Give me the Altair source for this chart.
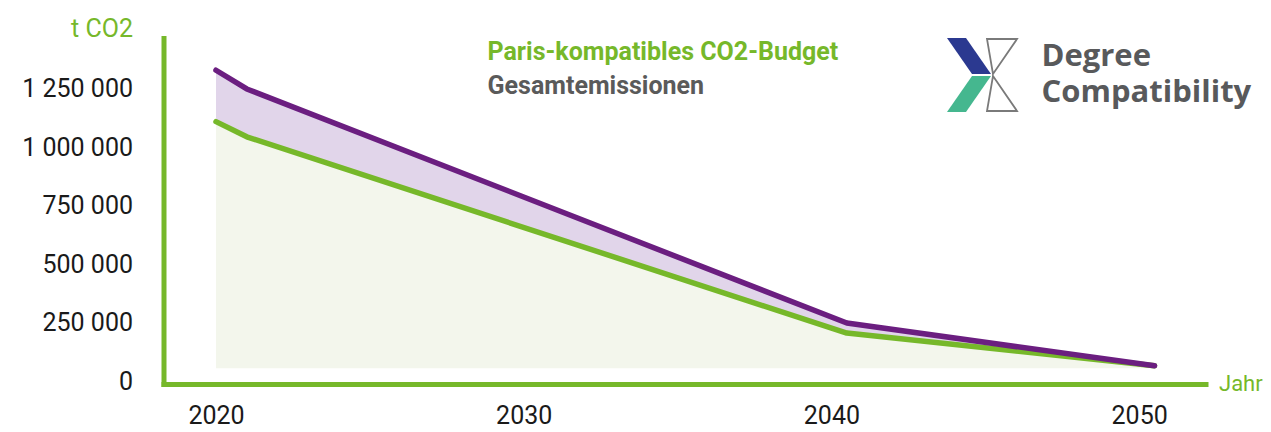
import altair as alt
import pandas as pd

# ---- data ----
years = [2020, 2021, 2040.5, 2050.5]
total_emissions = [1330000, 1250000, 248000, 65000]   # Gesamtemissionen (purple)
paris_budget = [1110000, 1045000, 205000, 65000]      # Paris-kompatibles CO2-Budget (green)
fill_base = 55000

x_ticks = [2020, 2030, 2040, 2050]
y_ticks = [0, 250000, 500000, 750000, 1000000, 1250000]
y_tick_labels = ["0", "250 000", "500 000", "750 000", "1 000 000", "1 250 000"]

legend_texts = ["Paris-kompatibles CO2-Budget", "Gesamtemissionen"]
logo_texts = ["Degree", "Compatibility"]

GREEN = "#76b82a"
PURPLE = "#6b1e80"
GREEN_FILL = "#f3f6ec"
PURPLE_FILL = "#e1d5ea"
FONT = "Roboto"

df = pd.DataFrame({
    "year": years,
    "total": total_emissions,
    "budget": paris_budget,
    "base": [fill_base] * len(years),
})

W, H = 1042, 346
x_scale = alt.Scale(domain=[2018.294, 2052.157], nice=False, zero=False)
y_scale = alt.Scale(domain=[-12800, 1468000], nice=False, zero=False)

label_expr = ""
for v, t in zip(y_ticks, y_tick_labels):
    label_expr += f"datum.value == {v} ? '{t}' : "
label_expr += "''"

x_axis = alt.Axis(
    values=x_ticks, format="d", ticks=False, grid=False,
    labelFontSize=25, labelFont=FONT, labelColor="#1a1a1a", labelPadding=19,
    labelFlush=False, labelOverlap=False,
    domainColor=GREEN, domainWidth=5, domainCap="square",
    title="Jahr", titleFont=FONT, titleFontSize=22, titleFontWeight="normal",
    titleColor=GREEN, titleAlign="left", titleBaseline="middle",
    titleX=1055, titleY=-1, titleAnchor="start",
)
y_axis = alt.Axis(
    values=y_ticks, labelExpr=label_expr, ticks=False, grid=False,
    labelFontSize=25, labelFont=FONT, labelColor="#1a1a1a", labelPadding=31,
    labelOverlap=False, labelFlush=False,
    domainColor=GREEN, domainWidth=5, domainCap="square",
    title="t CO2", titleFont=FONT, titleFontSize=25, titleFontWeight="normal",
    titleColor=GREEN, titleAngle=0, titleAlign="right", titleBaseline="middle",
    titleX=-31, titleY=-10,
)

base = alt.Chart(df)

green_area = base.mark_area(color=GREEN_FILL, opacity=1).encode(
    x=alt.X("year:Q", scale=x_scale, axis=x_axis),
    y=alt.Y("budget:Q", scale=y_scale, axis=y_axis),
    y2="base:Q",
)
purple_area = base.mark_area(color=PURPLE_FILL, opacity=1).encode(
    x=alt.X("year:Q"), y=alt.Y("total:Q"), y2="budget:Q",
)
green_line = base.mark_line(color=GREEN, strokeWidth=5.5, strokeCap="round", strokeJoin="round").encode(
    x="year:Q", y="budget:Q",
)
purple_line = base.mark_line(color=PURPLE, strokeWidth=5.5, strokeCap="round", strokeJoin="round").encode(
    x="year:Q", y="total:Q",
)

# ---- legend-like text (plot-area pixel positions) ----
def text_layer(txt, px, py, color, size, weight, font=FONT):
    return alt.Chart(pd.DataFrame({"t": [txt]})).mark_text(
        align="left", baseline="middle", font=font, fontSize=size,
        fontWeight=weight, color=color,
    ).encode(x=alt.value(px), y=alt.value(py), text="t:N")

legend1 = text_layer(legend_texts[0], 324, 13.5, GREEN, 25, "bold")
legend2 = text_layer(legend_texts[1], 324, 48, "#5a5a5a", 25, "bold")

# ---- logo ----
logo1 = text_layer(logo_texts[0], 878, 19, "#58595b", 31, "bold", "Open Sans")
logo2 = text_layer(logo_texts[1], 878, 55, "#58595b", 31, "bold", "Open Sans")

# logo X shape: polygons in page pixels, turned into symbol paths
LOGO_CX, LOGO_CY, LOGO_HALF = 983.0, 75.0, 37.0
navy_poly = [(947, 38), (966, 38), (991, 74), (972, 74)]
teal_poly = [(972, 76), (991, 76), (966, 112), (947, 112)]
grey_up = [(987, 39), (1017, 39), (993, 74)]
grey_down = [(993, 76), (1017, 111), (987, 111)]


def to_path(poly):
    pts = [((x - LOGO_CX) / LOGO_HALF, (y - LOGO_CY) / LOGO_HALF) for x, y in poly]
    return "M" + " L".join(f"{a:.3f},{b:.3f}" for a, b in pts) + " Z"


def logo_symbol(path, color, filled):
    kw = dict(shape=path, size=(2 * LOGO_HALF) ** 2, opacity=1)
    if filled:
        kw.update(filled=True, fill=color, strokeWidth=0)
    else:
        kw.update(filled=False, stroke=color, strokeWidth=1.8)
    return alt.Chart(pd.DataFrame({"k": [0]})).mark_point(**kw).encode(
        x=alt.value(LOGO_CX - 163.5), y=alt.value(LOGO_CY - 38)
    )


logo_parts = [
    logo_symbol(to_path(navy_poly), "#2b3990", True),
    logo_symbol(to_path(teal_poly), "#45b78f", True),
    logo_symbol(to_path(grey_up), "#7a7a7a", False),
    logo_symbol(to_path(grey_down), "#7a7a7a", False),
]

chart = alt.layer(
    green_area, purple_area, green_line, purple_line,
    legend1, legend2, logo1, logo2, *logo_parts,
).properties(
    width=W, height=H,
    autosize=alt.AutoSizeParams(type="none"),
    padding={"left": 155.5, "top": 30, "right": 57.5, "bottom": 40},
    background="white",
).configure_view(stroke=None)

chart.save("out.html", embed_options={"renderer": "svg", "actions": False})
